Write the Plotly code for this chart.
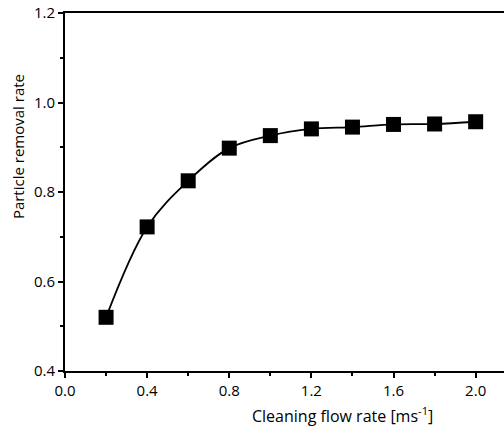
import plotly.graph_objects as go

# Particle removal rate versus cleaning flow rate
flow_rate = [0.2, 0.4, 0.6, 0.8, 1.0, 1.2, 1.4, 1.6, 1.8, 2.0]
removal_rate = [0.520, 0.722, 0.825, 0.898, 0.926, 0.941, 0.945, 0.951, 0.952, 0.957]

x_ticks = [0.0, 0.4, 0.8, 1.2, 1.6, 2.0]
y_ticks = [0.4, 0.6, 0.8, 1.0, 1.2]

FONT = "Open Sans"
tick_font = dict(family=FONT, size=15, color="black")

fig = go.Figure()

# smooth trend curve through the measurements
fig.add_trace(go.Scatter(
    x=flow_rate, y=removal_rate, mode="lines",
    line=dict(color="black", width=1.8, shape="spline", smoothing=1.0),
    hoverinfo="skip", showlegend=False,
))

# measured points
fig.add_trace(go.Scatter(
    x=flow_rate, y=removal_rate, mode="markers",
    marker=dict(symbol="square", size=15, color="black"),
    showlegend=False,
))

fig.update_layout(
    width=504, height=430,
    margin=dict(l=65, r=0, t=13, b=59),
    paper_bgcolor="white", plot_bgcolor="white",
    font=dict(family=FONT, size=14, color="black"),
    xaxis=dict(
        range=[0, 2.138], tickvals=x_ticks,
        ticktext=[f"{v:.1f}" for v in x_ticks], tickfont=tick_font,
        showline=True, linecolor="black", linewidth=2, mirror=True,
        ticks="outside", ticklen=5, tickwidth=1.5, tickcolor="black",
        minor=dict(ticks="outside", ticklen=3, tickwidth=1.5, dtick=0.2,
                   tick0=0, tickcolor="black"),
        showgrid=False, zeroline=False,
    ),
    yaxis=dict(
        range=[0.4, 1.2], tickvals=y_ticks,
        ticktext=[f"{v:.1f}" for v in y_ticks], tickfont=tick_font,
        showline=True, linecolor="black", linewidth=2,
        ticks="outside", ticklen=5, tickwidth=1.5, tickcolor="black",
        minor=dict(ticks="outside", ticklen=3, tickwidth=1.5, dtick=0.1,
                   tick0=0.4, tickcolor="black"),
        showgrid=False, zeroline=False,
    ),
    annotations=[
        dict(text="Cleaning flow rate [ms<sup>-1</sup>]", xref="paper", yref="paper",
             x=0.631, y=-0.124, xanchor="center", yanchor="middle",
             showarrow=False, font=dict(family=FONT, size=16)),
        dict(text="Particle removal rate", xref="paper", yref="paper",
             x=-0.108, y=0.627, xanchor="center", yanchor="middle",
             textangle=-90, showarrow=False, font=dict(family=FONT, size=15)),
    ],
)

fig.write_html("out.html")
